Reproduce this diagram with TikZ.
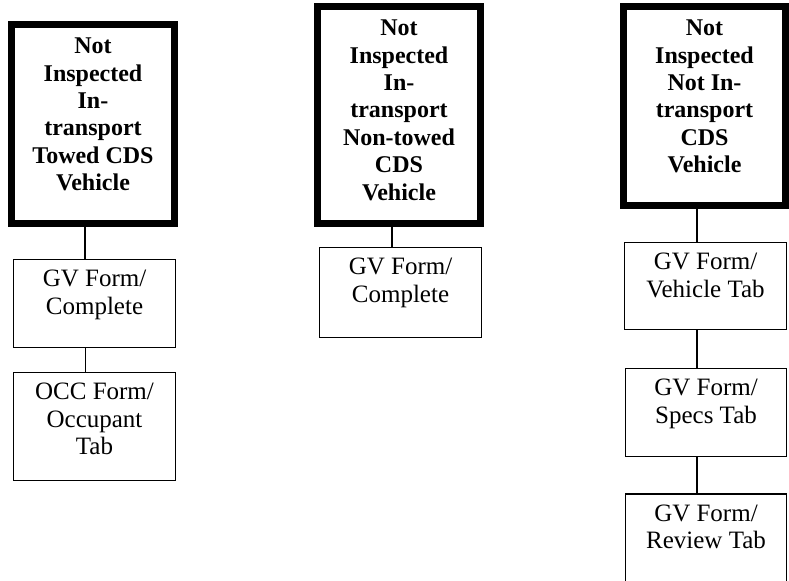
\documentclass[tikz,border=0pt]{standalone}
\usepackage{fontspec}
\setmainfont{Liberation Serif}
\begin{document}
\begin{tikzpicture}[x=0.75pt,y=-0.75pt,
  thickbox/.style={draw=black,line width=5.25pt,inner sep=0pt,outer sep=0pt,minimum width=122.25pt},
  thinbox/.style={draw=black,line width=1pt,inner sep=0pt,outer sep=0pt,minimum width=121.5pt},
  headtxt/.style={inner sep=0pt,outer sep=0pt,align=center,anchor=north,
    font=\fontsize{18pt}{20.6pt}\selectfont\bfseries,execute at begin node=\strut},
  formtxt/.style={inner sep=0pt,outer sep=0pt,align=center,anchor=north,
    font=\fontsize{18.75pt}{20.6pt}\selectfont,execute at begin node=\strut},
  conn/.style={draw=black,line width=1pt}]
\useasboundingbox (0,0) rectangle (789,581);
\clip (0,0) rectangle (789,581);

% column 1
\node[thickbox,minimum height=149.25pt] (h1) at (93,124) {};
\node[headtxt] (h1t) at ([yshift=-10pt]h1.north) {Not\\Inspected\\In-\\transport\\Towed CDS\\Vehicle};
\node[thinbox,minimum height=66pt] (a1) at (94.5,303.5) {};
\node[formtxt] (a1t) at ([yshift=-8.1pt]a1.north) {GV Form/\\Complete};
\node[thinbox,minimum height=81pt] (a2) at (94.5,426.5) {};
\node[formtxt] (a2t) at ([yshift=-8.1pt]a2.north) {OCC Form/\\Occupant\\Tab};
\draw[conn] ([xshift=-6pt]h1.south) -- ([xshift=-6pt]h1.south |- a1.north);
\draw[conn] ([xshift=-7pt]a1.south) -- ([xshift=-7pt]a1.south |- a2.north);

% column 2
\node[thickbox,minimum height=162.75pt] (h2) at (399,115) {};
\node[headtxt] (h2t) at ([yshift=-10pt]h2.north) {Not\\Inspected\\In-\\transport\\Non-towed\\CDS\\Vehicle};
\node[thinbox,minimum height=67.5pt] (b1) at (400.5,292.5) {};
\node[formtxt] (b1t) at ([yshift=-8.1pt]b1.north) {GV Form/\\Complete};
\draw[conn] ([xshift=-5.25pt]h2.south) -- ([xshift=-5.25pt]h2.south |- b1.north);

% column 3
\node[thickbox,minimum height=149.25pt,minimum width=121.5pt] (h3) at (704.5,106) {};
\node[headtxt] (h3t) at ([yshift=-10pt]h3.north) {Not\\Inspected\\Not In-\\transport\\CDS\\Vehicle};
\node[thinbox,minimum height=65.25pt] (c1) at (705.5,286) {};
\node[formtxt] (c1t) at ([yshift=-8.1pt]c1.north) {GV Form/\\Vehicle Tab};
\node[thinbox,minimum height=66pt,minimum width=120.75pt] (c2) at (706,412.5) {};
\node[formtxt] (c2t) at ([yshift=-8.1pt]c2.north) {GV Form/\\Specs Tab};
\node[thinbox,minimum height=66pt,minimum width=120.75pt] (c3) at (706,538) {};
\node[formtxt] (c3t) at ([yshift=-8.1pt]c3.north) {GV Form/\\Review Tab};
\draw[conn] ([xshift=-5.6pt]h3.south) -- ([xshift=-5.6pt]h3.south |- c1.north);
\draw[conn] ([xshift=-6.4pt]c1.south) -- ([xshift=-6.4pt]c1.south |- c2.north);
\draw[conn] ([xshift=-6.75pt]c2.south) -- ([xshift=-6.75pt]c2.south |- c3.north);
\end{tikzpicture}
\end{document}
